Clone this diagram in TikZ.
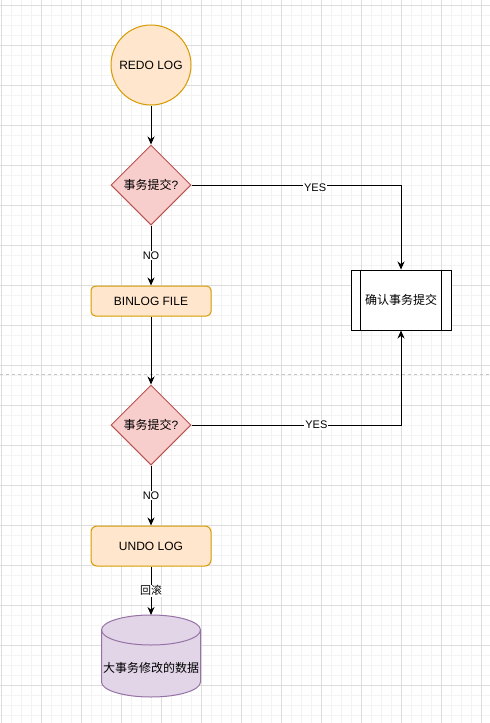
\documentclass[tikz,border=0pt]{standalone}
\usepackage{fontspec}
\setmainfont{Liberation Sans}
\newfontfamily\cjk{Noto Sans CJK SC}
\usetikzlibrary{shapes.geometric,arrows.meta}
\definecolor{orfill}{HTML}{FFE6CC}
\definecolor{orline}{HTML}{D79B00}
\definecolor{rdfill}{HTML}{F8CECC}
\definecolor{rdline}{HTML}{B85450}
\definecolor{pufill}{HTML}{E1D5E7}
\definecolor{puline}{HTML}{9673A6}
\definecolor{gridminor}{HTML}{F3F3F3}
\definecolor{gridmajor}{HTML}{DDDDDD}
\definecolor{sepline}{HTML}{C4C4C4}
\tikzset{
  base/.style={line width=1pt, font=\fontsize{12}{14}\selectfont, text=black, inner sep=0pt},
  orbox/.style={base, draw=orline, fill=orfill, rectangle, minimum width=120pt},
  decision/.style={base, draw=rdline, fill=rdfill, diamond, aspect=1, minimum width=80pt, minimum height=80pt},
  arr/.style={line width=1pt, -{Stealth[length=8pt,width=7pt]}},
  lbl/.style={fill=white, inner sep=1pt, font=\fontsize{11}{13}\selectfont, text=black},
}
\begin{document}
\begin{tikzpicture}[x=1pt,y=1pt]
\useasboundingbox (0,0) rectangle (490,-723);
\fill[white] (0,0) rectangle (490,-723);
% grid
\foreach \x in {1,11,...,490} \draw[gridminor, line width=0.8pt] (\x,0) -- (\x,-723);
\foreach \y in {5,15,...,723} \draw[gridminor, line width=0.8pt] (0,-\y) -- (490,-\y);
\foreach \x in {1,41,...,490} \draw[gridmajor, line width=0.8pt] (\x,0) -- (\x,-723);
\foreach \y in {5,45,...,723} \draw[gridmajor, line width=0.8pt] (0,-\y) -- (490,-\y);
% separator
\draw[sepline, line width=0.8pt, dash pattern=on 3pt off 3pt] (0,-374) -- (490,-374);

% nodes
\node[base, circle, draw=orline, fill=orfill, minimum size=80pt] (redo) at (151,-65) {REDO LOG};
\node[decision] (d1) at (151,-185) {{\cjk 事务提交}?};
\node[orbox, minimum height=30pt, rounded corners=4.5pt] (binlog) at (151,-301) {BINLOG FILE};
\node[base, draw=black, fill=white, rectangle, minimum width=100pt, minimum height=60pt] (confirm) at (401,-300) {\cjk 确认事务提交};
\draw[line width=1pt] ([xshift=10pt]confirm.north west) -- ([xshift=10pt]confirm.south west);
\draw[line width=1pt] ([xshift=-10pt]confirm.north east) -- ([xshift=-10pt]confirm.south east);
\node[decision] (d2) at (151,-425) {{\cjk 事务提交}?};
\node[orbox, minimum height=40pt, rounded corners=6pt] (undo) at (151,-546) {UNDO LOG};

% cylinder
\draw[line width=1pt, draw=puline, fill=pufill]
  (101.5,-630) -- (101.5,-682)
  arc[start angle=180, end angle=360, x radius=49.5, y radius=15]
  -- (200.5,-630)
  arc[start angle=0, end angle=180, x radius=49.5, y radius=15] -- cycle;
\draw[line width=1pt, draw=puline]
  (101.5,-630) arc[start angle=180, end angle=360, x radius=49.5, y radius=15];
\coordinate (cyltop) at (151,-615);
\node[base] (data) at (151,-668) {\cjk 大事务修改的数据};

% connectors
\draw[arr] (redo) -- (d1);
\draw[arr] (d1) -- node[lbl]{NO} (binlog);
\draw[arr] (binlog) -- (d2);
\draw[arr] (d2) -- node[lbl]{NO} (undo);
\draw[arr] (undo) -- node[lbl]{\cjk 回滚} (cyltop);
\draw[arr] (d1.east) -| node[lbl, pos=0.295, yshift=-3pt]{YES} (confirm.north);
\draw[arr] (d2.east) -| node[lbl, pos=0.298]{YES} (confirm.south);
\end{tikzpicture}
\end{document}
